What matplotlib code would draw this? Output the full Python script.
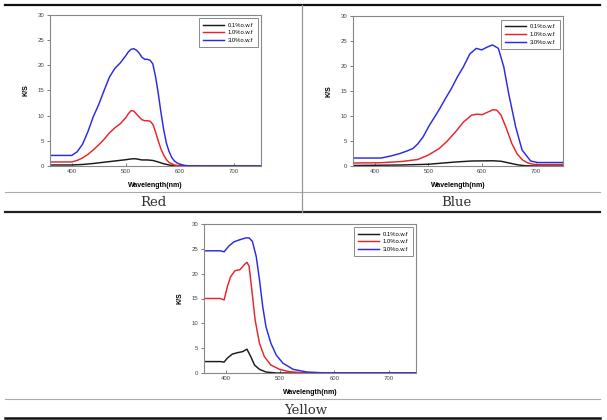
import matplotlib
matplotlib.use("Agg")
import matplotlib.pyplot as plt
from matplotlib.lines import Line2D

W, H = 607, 420

labels = ["0.1%o.w.f", "1.0%o.w.f", "3.0%o.w.f"]
colors = ["#1a1a1a", "#e8242b", "#2a2ae6"]

# ---- Red dye ----
red_x01 = [360, 400, 420, 440, 460, 480, 500, 510, 515, 520, 530, 540, 550, 560, 570, 580, 590, 600, 620, 750]
red_y01 = [0.2, 0.2, 0.3, 0.5, 0.75, 1.0, 1.25, 1.4, 1.45, 1.4, 1.2, 1.2, 1.1, 0.8, 0.45, 0.2, 0.06, 0.02, 0.0, 0.0]
red_x10 = [360, 400, 410, 420, 430, 440, 450, 460, 470, 480, 490, 500, 505, 510, 515, 520, 525, 530, 535, 540,
           545, 550, 555, 560, 565, 570, 575, 580, 590, 600, 620, 750]
red_y10 = [0.8, 0.8, 1.1, 1.6, 2.3, 3.2, 4.2, 5.3, 6.6, 7.6, 8.4, 9.6, 10.4, 11.0, 10.9, 10.3, 9.7, 9.2, 9.0, 9.0,
           8.9, 8.3, 6.8, 5.0, 3.4, 2.2, 1.3, 0.7, 0.2, 0.05, 0.0, 0.0]
red_x30 = [360, 380, 400, 410, 420, 430, 440, 450, 460, 470, 480, 490, 500, 505, 510, 515, 520, 525, 530, 535,
           540, 545, 550, 555, 560, 565, 570, 575, 580, 585, 590, 595, 600, 610, 620, 640, 750]
red_y30 = [2.1, 2.1, 2.1, 2.8, 4.3, 6.8, 9.8, 12.2, 15.0, 17.7, 19.4, 20.5, 21.9, 22.7, 23.2, 23.3, 23.0, 22.4, 21.6, 21.2,
           21.2, 21.0, 20.3, 17.8, 14.5, 10.7, 7.3, 4.6, 2.9, 1.7, 1.0, 0.6, 0.35, 0.1, 0.03, 0.0, 0.0]

# ---- Blue dye ----
blue_x01 = [360, 450, 500, 550, 580, 620, 635, 650, 665, 680, 700, 750]
blue_y01 = [0.1, 0.2, 0.35, 0.8, 1.0, 1.05, 0.95, 0.6, 0.25, 0.05, 0.0, 0.0]
blue_x10 = [360, 410, 450, 480, 500, 520, 535, 550, 565, 580, 590, 600, 610, 620, 627, 635, 645, 655, 665, 675,
            685, 695, 700, 750]
blue_y10 = [0.6, 0.65, 0.9, 1.3, 2.2, 3.5, 5.0, 6.8, 8.8, 10.2, 10.4, 10.3, 10.8, 11.3, 11.2, 10.2, 7.5, 4.5, 2.4, 1.2,
            0.6, 0.35, 0.3, 0.3]
blue_x30 = [360, 412, 430, 447, 460, 471, 480, 490, 502, 512, 521, 532, 543, 554, 565, 577, 589, 599, 608, 619,
            630, 640, 649, 662, 674, 690, 703, 750]
blue_y30 = [1.6, 1.6, 2.0, 2.5, 3.0, 3.5, 4.4, 5.8, 8.2, 9.9, 11.5, 13.6, 15.6, 17.9, 19.9, 22.5, 23.6, 23.3, 23.8, 24.3,
            23.6, 19.9, 14.6, 7.9, 3.2, 1.0, 0.7, 0.7]

# ---- Yellow dye ----
yel_x01 = [360, 390, 397, 403, 412, 422, 431, 439, 446, 453, 462, 474, 493, 750]
yel_y01 = [2.3, 2.3, 2.2, 3.0, 3.8, 4.1, 4.3, 4.8, 3.3, 1.6, 0.74, 0.2, 0.0, 0.0]
yel_x10 = [360, 390, 397, 403, 409, 417, 426, 434, 439, 443, 448, 454, 462, 471, 483, 499, 517, 549, 750]
yel_y10 = [15.0, 15.0, 14.7, 17.4, 19.4, 20.6, 20.8, 21.8, 22.3, 21.5, 16.7, 10.7, 6.0, 3.3, 1.6, 0.74, 0.27, 0.0, 0.0]
yel_x30 = [360, 390, 397, 406, 415, 425, 437, 443, 449, 456, 462, 468, 474, 483, 493, 505, 524, 549, 586, 750]
yel_y30 = [24.6, 24.6, 24.4, 25.6, 26.4, 26.8, 27.2, 27.2, 26.5, 23.5, 18.8, 13.4, 9.3, 6.0, 3.6, 2.0, 0.74, 0.2, 0.0, 0.0]

panels = [
    ("Red", (50, 15, 261, 166), [(red_x01, red_y01), (red_x10, red_y10), (red_x30, red_y30)]),
    ("Blue", (353, 16.5, 563, 166), [(blue_x01, blue_y01), (blue_x10, blue_y10), (blue_x30, blue_y30)]),
    ("Yellow", (204, 224, 416, 373), [(yel_x01, yel_y01), (yel_x10, yel_y10), (yel_x30, yel_y30)]),
]
captions = [("Red", 153, 202), ("Blue", 456, 202), ("Yellow", 306, 410)]

fig = plt.figure(figsize=(W / 100, H / 100), dpi=100)
fig.patch.set_facecolor("white")


def px_axes(l, t, r, b):
    return fig.add_axes([l / W, 1 - b / H, (r - l) / W, (b - t) / H])


for name, box, series in panels:
    ax = px_axes(*box)
    for (xs, ys), c, lab in zip(series, colors, labels):
        ax.plot(xs, ys, color=c, lw=1.05, label=lab)
    ax.set_xlim(360, 750)
    ax.set_ylim(0, 30)
    ax.set_xticks([400, 500, 600, 700])
    ax.set_yticks([0, 5, 10, 15, 20, 25, 30])
    ax.tick_params(axis="both", labelsize=4.3, colors="#444444", length=2, width=0.5, pad=2,
                   labelfontfamily="Liberation Sans")
    ax.tick_params(axis="x", direction="in")
    for sp in ax.spines.values():
        sp.set_color("#888888")
        sp.set_linewidth(0.8)
    ax.set_xlabel("Wavelength(nm)", fontsize=5, fontweight="bold", family="Liberation Sans", labelpad=6)
    ax.set_ylabel("K/S", fontsize=5, fontweight="bold", family="Liberation Sans", labelpad=6)
    leg = ax.legend(loc="upper right", frameon=True, fancybox=False, handlelength=3.5,
                    borderaxespad=0.6, labelspacing=0.45, handletextpad=0.7, borderpad=0.7,
                    prop={"family": "Liberation Sans", "size": 4.2})
    leg.get_frame().set_edgecolor("#555555")
    leg.get_frame().set_linewidth(0.6)

for text, x, y in captions:
    fig.text(x / W, 1 - y / H, text, ha="center", va="center", fontsize=9.5,
             family="DejaVu Serif", color="#333333")


def hline(y, lw, color, x0=5, x1=600):
    fig.add_artist(Line2D([x0 / W, x1 / W], [1 - y / H, 1 - y / H], transform=fig.transFigure,
                          color=color, lw=lw))


hline(5, 1.6, "#111111")
hline(192.5, 0.8, "#aaaaaa")
hline(212, 1.6, "#222222")
hline(399, 0.8, "#aaaaaa")
hline(418, 1.8, "#111111")
fig.add_artist(Line2D([302 / W, 302 / W], [1 - 5 / H, 1 - 212 / H], transform=fig.transFigure,
                      color="#999999", lw=0.9))

fig.savefig("out.png", dpi=100)
